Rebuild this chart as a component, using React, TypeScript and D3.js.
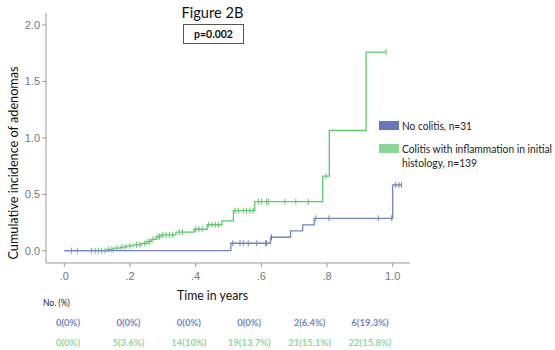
import * as d3 from "d3";

// step events: [time, cumulative incidence after step]
const greenSteps: [number, number][] = [
  [0.13, 0.012], [0.15, 0.022], [0.17, 0.032], [0.19, 0.042], [0.21, 0.052],
  [0.235, 0.064], [0.25, 0.08], [0.265, 0.1], [0.28, 0.125], [0.295, 0.14],
  [0.34, 0.165], [0.395, 0.19], [0.435, 0.23], [0.48, 0.265], [0.515, 0.355],
  [0.58, 0.435], [0.787, 0.66], [0.807, 1.065], [0.919, 1.76],
];
const greenEnd = 0.98;
const greenCensor = [
  0.022, 0.04, 0.083, 0.094, 0.104, 0.114, 0.124, 0.135, 0.145, 0.16, 0.175,
  0.185, 0.2, 0.22, 0.23, 0.245, 0.255, 0.26, 0.27, 0.285, 0.29, 0.3, 0.31,
  0.32, 0.33, 0.35, 0.36, 0.4, 0.41, 0.42, 0.44, 0.45, 0.46, 0.47, 0.52,
  0.53, 0.545, 0.555, 0.565, 0.575, 0.591, 0.601, 0.616, 0.621, 0.672,
  0.705, 0.743, 0.797, 0.98,
];

const blueSteps: [number, number][] = [
  [0.507, 0.066], [0.628, 0.119], [0.689, 0.175], [0.726, 0.228],
  [0.761, 0.287], [1.0, 0.582],
];
const blueEnd = 1.027;
const blueCensor = [
  0.513, 0.535, 0.545, 0.56, 0.586, 0.613, 0.616, 0.631, 0.766, 0.806,
  0.956, 0.997, 1.009, 1.019, 1.027,
];

const xTicks = [0, 0.2, 0.4, 0.6, 0.8, 1.0];
const xTickLabels = [".0", ".2", ".4", ".6", ".8", "1.0"];
const yTicks = [0, 0.5, 1.0, 1.5, 2.0];

const riskBlue = ["0(0%)", "0(0%)", "0(0%)", "0(0%)", "2(6.4%)", "6(19.3%)"];
const riskGreen = ["0(0%)", "5(3.6%)", "14(10%)", "19(13.7%)", "21(15.1%)", "22(15.8%)"];

const GREEN = "#5cc96a";
const BLUE = "#7383c6";
const font = "Lato, 'Open Sans', sans-serif";

function stepPoints(steps: [number, number][], end: number): [number, number][] {
  const pts: [number, number][] = [[0, 0]];
  steps.forEach(([t, v]) => pts.push([t, v]));
  pts.push([end, steps[steps.length - 1][1]]);
  return pts;
}

function valueAt(steps: [number, number][], t: number) {
  let v = 0;
  steps.forEach(([s, val]) => { if (s <= t) v = val; });
  return v;
}

export default function App() {
  const x = d3.scaleLinear().domain([0, 1]).range([64.3, 392.7]);
  const y = d3.scaleLinear().domain([0, 2]).range([250.7, 25]);
  const line = d3.line<[number, number]>()
    .x(d => x(d[0]))
    .y(d => y(d[1]))
    .curve(d3.curveStepAfter);

  const series = [
    { steps: greenSteps, end: greenEnd, censor: greenCensor, color: GREEN },
    { steps: blueSteps, end: blueEnd, censor: blueCensor, color: BLUE },
  ];
  const riskX = d3.scalePoint<number>().domain(d3.range(6)).range([68, 370]);
  const squeeze = "spacingAndGlyphs";

  return (
    <svg width={555} height={350} style={{ position: "absolute", left: 0, top: 0, background: "#fff" }}>
      {/* axes */}
      <line x1={46} x2={46} y1={13} y2={263} stroke="#999" strokeWidth={1} />
      <line x1={46} x2={410} y1={263} y2={263} stroke="#999" strokeWidth={1} />
      {yTicks.map(t => (
        <g key={t}>
          <line x1={42} x2={46} y1={y(t)} y2={y(t)} stroke="#999" />
          <text x={40} y={y(t) + 4} textAnchor="end" fontSize={11} fill="#777" fontFamily="Arial, 'Liberation Sans'">
            {t.toFixed(1)}
          </text>
        </g>
      ))}
      {xTicks.map((t, i) => (
        <g key={t}>
          <line x1={x(t)} x2={x(t)} y1={263} y2={267} stroke="#999" />
          <text x={x(t)} y={280} textAnchor="middle" fontSize={11} fill="#777" fontFamily="Arial, 'Liberation Sans'">
            {xTickLabels[i]}
          </text>
        </g>
      ))}

      {/* curves */}
      {series.map((s, i) => (
        <g key={i}>
          <path d={line(stepPoints(s.steps, s.end)) ?? ""} fill="none" stroke={s.color} strokeWidth={1.3} />
          {s.censor.map((c, j) => (
            <line key={j} x1={x(c)} x2={x(c)} y1={y(valueAt(s.steps, c)) - 3} y2={y(valueAt(s.steps, c)) + 3}
              stroke={s.color} strokeWidth={1} />
          ))}
        </g>
      ))}

      {/* titles */}
      <text x={181.5} y={18} fontSize={15} fontFamily={font} fill="#111" textLength={62} lengthAdjust={squeeze}>Figure 2B</text>
      <rect x={183.5} y={24.5} width={60} height={19} fill="#fff" stroke="#555" strokeWidth={1} />
      <text x={213.5} y={38} textAnchor="middle" fontSize={10.5} fontWeight="bold" fontFamily={font} fill="#111">p=0.002</text>

      <text transform="translate(18,163) rotate(-90)" x={-96.5} fontSize={13.8} fontFamily={font} fill="#111"
        textLength={193} lengthAdjust={squeeze}>
        Cumulative incidence of adenomas
      </text>
      <text x={177} y={300} fontSize={13.5} fontFamily={font} fill="#111" textLength={71} lengthAdjust={squeeze}>Time in years</text>

      {/* legend */}
      <rect x={379} y={121} width={20} height={9} fill="#6677bb" />
      <text x={402} y={130} fontSize={10.5} fontFamily={font} fill="#222" textLength={70} lengthAdjust={squeeze}>No colitis, n=31</text>
      <rect x={379} y={144} width={20} height={9} fill="#88d896" />
      <text x={402} y={153} fontSize={10.5} fontFamily={font} fill="#222" textLength={150} lengthAdjust={squeeze}>Colitis with inflammation in initial</text>
      <text x={402} y={167} fontSize={10.5} fontFamily={font} fill="#222" textLength={75} lengthAdjust={squeeze}>histology, n=139</text>

      {/* risk table */}
      <text x={43} y={306} fontSize={8.5} fontFamily={font} fill="#222">No. (%)</text>
      {riskBlue.map((r, i) => (
        <text key={"b" + i} x={riskX(i)} y={326} textAnchor="middle" fontSize={9.5} fontWeight="bold" fontFamily={font} fill="#6f85c9">{r}</text>
      ))}
      {riskGreen.map((r, i) => (
        <text key={"g" + i} x={riskX(i)} y={346} textAnchor="middle" fontSize={9.5} fontWeight="bold" fontFamily={font} fill="#8ad99a">{r}</text>
      ))}
    </svg>
  );
}
